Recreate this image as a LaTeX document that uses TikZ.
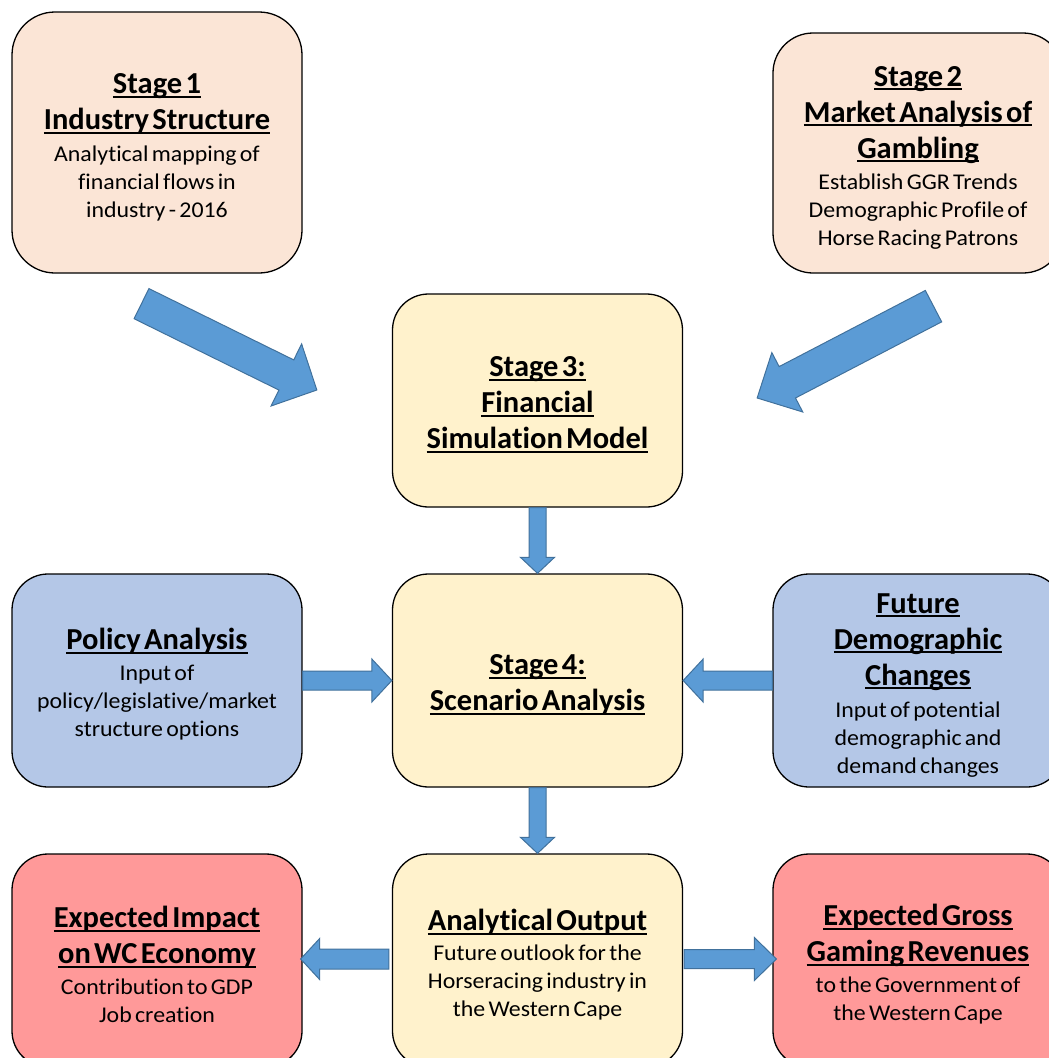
\documentclass[tikz,border=0pt]{standalone}
\usepackage{fontspec}
\setmainfont{Carlito}[Ligatures=NoCommon]
\newfontfamily\bodyfam{Carlito}[Ligatures=NoCommon, FakeStretch=1.06]
\newsavebox\ulbox
\newcommand\uline[1]{\leavevmode\sbox\ulbox{#1}\rlap{\rule[-4.4pt]{\wd\ulbox}{2pt}}\usebox\ulbox}
\usetikzlibrary{calc}
\definecolor{peach}{HTML}{FBE5D6}
\definecolor{cream}{HTML}{FFF2CC}
\definecolor{lblue}{HTML}{B4C7E7}
\definecolor{lred}{HTML}{FF9999}
\definecolor{arrowfill}{HTML}{5B9BD5}
\definecolor{arrowline}{HTML}{41719C}
\newcommand\boxtitle{\fontsize{30.5}{36}\selectfont\bfseries}
\newcommand\boxbody{\bodyfam\fontsize{22.5}{28}\selectfont\mdseries}
\newcommand\topgap{\rule{0pt}{29pt}}
\tikzset{
  stagebox/.style={draw=black, line width=1.3pt, rounded corners=#1, minimum width=290pt,
    inner sep=0pt, text width=288pt, align=center},
  barrow/.style={fill=arrowfill, draw=arrowline, line width=1pt, line join=miter}
}
% #1 start, #2 tip, #3 shaft half width, #4 head half width, #5 head length
\newcommand\blockarrow[5]{%
  \draw[barrow] let \p1=(#1), \p2=(#2), \n1={atan2(\y2-\y1,\x2-\x1)}, \n2={veclen(\x2-\x1,\y2-\y1)} in
   [shift={(\p1)}, rotate=\n1] (0,#3) -- ({\n2-#5},#3) -- ({\n2-#5},#4) -- (\n2,0)
   -- ({\n2-#5},-#4) -- ({\n2-#5},-#3) -- (0,-#3) -- cycle;
}
\begin{document}
\begin{tikzpicture}[x=1pt,y=-1pt]
\useasboundingbox (0,0) rectangle (1049,1058);
\clip (0,0) rectangle (1049,1058);

% top row
\node[stagebox=43pt, fill=peach, minimum height=261pt] (s1) at (157,142.5)
 {{\boxtitle\topgap\uline{Stage 1}\par\uline{Industry Structure}\par}\vspace{4pt}%
  {\boxbody Analytical mapping of\par financial flows in\par industry - 2016\par}};
\node[stagebox=40pt, fill=peach, minimum height=240pt] (s2) at (918,153)
 {{\boxtitle\topgap\uline{Stage 2}\par\uline{Market Analysis of}\par\uline{Gambling}\par}\vspace{3pt}%
  {\boxbody Establish GGR Trends\par Demographic Profile of\par Horse Racing Patrons\par}};

% stage 3
\node[stagebox=36pt, fill=cream, minimum height=213pt] (s3) at (537.5,400.5)
 {{\boxtitle\topgap\uline{Stage 3:}\par\uline{Financial}\par\uline{Simulation Model}\par}};

% middle row
\node[stagebox=36pt, fill=lblue, minimum height=213pt] (pa) at (157,680.5)
 {{\boxtitle\topgap\uline{Policy Analysis}\par}\vspace{3pt}%
  {\boxbody Input of\par policy/legislative/market\par structure options\par}};
\node[stagebox=36pt, fill=cream, minimum height=213pt] (s4) at (537.5,680.5)
 {{\boxtitle\topgap\uline{Stage 4:}\par\uline{Scenario Analysis}\par}};
\node[stagebox=36pt, fill=lblue, minimum height=213pt] (fd) at (918,680.5)
 {{\boxtitle\topgap\uline{Future}\par\uline{Demographic}\par\uline{Changes}\par}\vspace{4pt}%
  {\boxbody Input of potential\par demographic and\par demand changes\par}};

% bottom row
\node[stagebox=36pt, fill=lred, minimum height=213pt] (ei) at (157,960.5)
 {{\boxtitle\topgap\uline{Expected Impact}\par\uline{on WC Economy}\par}\vspace{3pt}%
  {\boxbody Contribution to GDP\par Job creation\par}};
\node[stagebox=36pt, fill=cream, minimum height=213pt] (ao) at (537.5,960.5)
 {{\boxtitle\topgap\uline{Analytical Output}\par}\vspace{2pt}%
  {\boxbody Future outlook for the\par Horseracing industry in\par the Western Cape\par}};
\node[stagebox=36pt, fill=lred, minimum height=213pt] (gr) at (918,960.5)
 {{\boxtitle\topgap\uline{Expected Gross}\par\uline{Gaming Revenues}\par}\vspace{3pt}%
  {\boxbody to the Government of\par the Western Cape\par}};

% arrow end points
\coordinate (a1s) at ($(s1.south)+(-15.5,30)$);
\coordinate (a1e) at ($(s3.west)+(-75,-10.5)$);
\coordinate (a2s) at ($(s2.south)+(15.5,32.5)$);
\coordinate (a2e) at ($(s3.east)+(74,-2.5)$);
\coordinate (a5s) at ($(ao.west)+(-3,-1.5)$);
\coordinate (a5e) at ($(ei.east)+(-2,-1.5)$);
\coordinate (a6s) at ($(ao.east)+(1,-1.5)$);
\coordinate (a6e) at ($(gr.west)+(4,-1.5)$);

\blockarrow{a1s}{a1e}{16.8}{34.6}{34}
\blockarrow{a2s}{a2e}{17.7}{33.5}{34}
\blockarrow{s3.south}{s4.north}{8.5}{17}{16}
\blockarrow{pa.east}{s4.west}{9.5}{21.5}{20}
\blockarrow{fd.west}{s4.east}{9.5}{21.5}{20}
\blockarrow{s4.south}{ao.north}{8.5}{17}{16}
\blockarrow{a5s}{a5e}{10}{20.5}{19}
\blockarrow{a6s}{a6e}{9.5}{21.5}{22}
\end{tikzpicture}
\end{document}
